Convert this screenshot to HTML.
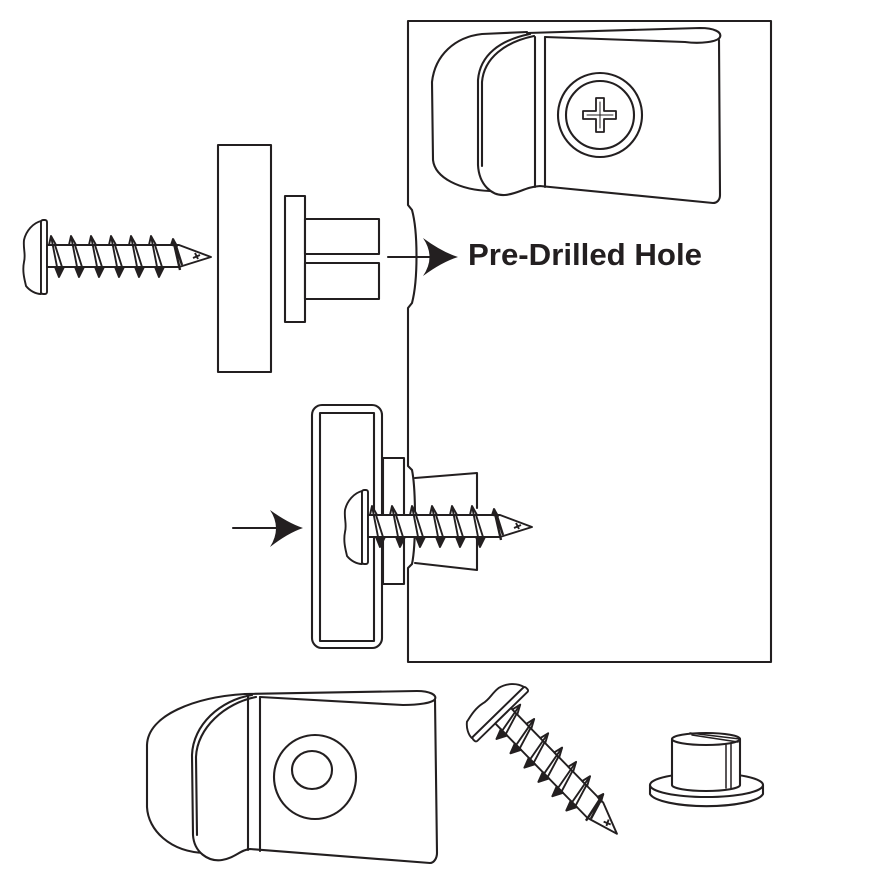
<!DOCTYPE html>
<html>
<head>
<meta charset="utf-8">
<style>
  html,body{margin:0;padding:0;background:#fff;}
  svg{display:block;}
</style>
</head>
<body>
<svg width="875" height="875" viewBox="0 0 875 875" xmlns="http://www.w3.org/2000/svg">
  <defs>
    <g id="screw" stroke="#231f20" stroke-width="1.9" fill="#fff" stroke-linejoin="round">
      <!-- dome -->
      <path d="M-4,-36 C-12,-34 -19,-26 -21,-17 C-22,-8 -19,-3 -21,5 C-23,15 -20,24 -19,29 C-15,34 -9,37 -4,37 Z"/>
      <!-- face strip -->
      <rect x="-4" y="-37" width="6" height="74" rx="2"/>
      <!-- shaft -->
      <path d="M2,-12 L134,-12 L166,0 L134,10 L2,10 Z"/>
      <!-- threads -->
      <g>
        <path d="M4,-12 L6,-21 L11,-12 Z"/><path d="M6,-21 L14,20 M10,-12 L17,10"/><path d="M10,10 L14,20 L19,10 Z" fill="#231f20"/>
        <path d="M24,-12 L26,-21 L31,-12 Z"/><path d="M26,-21 L34,20 M30,-12 L37,10"/><path d="M30,10 L34,20 L39,10 Z" fill="#231f20"/>
        <path d="M44,-12 L46,-21 L51,-12 Z"/><path d="M46,-21 L54,20 M50,-12 L57,10"/><path d="M50,10 L54,20 L59,10 Z" fill="#231f20"/>
        <path d="M64,-12 L66,-21 L71,-12 Z"/><path d="M66,-21 L74,20 M70,-12 L77,10"/><path d="M70,10 L74,20 L79,10 Z" fill="#231f20"/>
        <path d="M84,-12 L86,-21 L91,-12 Z"/><path d="M86,-21 L94,20 M90,-12 L97,10"/><path d="M90,10 L94,20 L99,10 Z" fill="#231f20"/>
        <path d="M104,-12 L106,-21 L111,-12 Z"/><path d="M106,-21 L114,20 M110,-12 L117,10"/><path d="M110,10 L114,20 L119,10 Z" fill="#231f20"/>
        <path d="M126,-12 L128,-18 L132,-11 Z" fill="#231f20"/><path d="M128,-18 L135,13 M131,-11 L137,8" stroke-width="2.4"/>
        <path d="M150,-4 L153,2 M148,1 L155,-2" fill="none"/>
      </g>
    </g>
  </defs>

  <g fill="none" stroke="#231f20" stroke-width="2.1" stroke-linejoin="round" stroke-linecap="round">
    <!-- Big panel with bulge at the pre-drilled hole -->
    <path d="M408,21 L771,21 L771,662 L408,662 L408,568 L412,564 C416,545 416,490 412,470 L408,466 L408,308 L412,303 C418,280 418,232 412,210 L408,205 Z" fill="#fff"/>

    <!-- ===== Top clip ===== -->
    <path d="M527,32 L482,34 C455,37 435,55 432,82 L433,160 C435,178 460,190 490,191" fill="#fff"/>
    <path d="M530,34 C500,40 480,55 478,80 L478,165 C479,185 492,196 505,195 C518,194 525,187 540,186 L713,203 C717,203 720,200 720,195 L719,40" fill="#fff"/>
    <path d="M534,36 C505,42 484,58 482,82 L482,166"/>
    <path d="M527,33 L700,28 C714,28 722,32 720,37 C718,42 700,44 685,42 L545,37"/>
    <line x1="535" y1="37" x2="535" y2="187"/>
    <line x1="545" y1="37" x2="545" y2="187"/>
    <circle cx="600" cy="115" r="42"/>
    <circle cx="600" cy="115" r="34"/>
    <path d="M596,98 L604,98 L604,111 L616,111 L616,119 L604,119 L604,132 L596,132 L596,119 L583,119 L583,111 L596,111 Z" stroke-width="1.8"/>
    <path d="M600,102 L600,128 M587,115 L613,115" stroke-width="1"/>

    <!-- ===== Top-left exploded parts ===== -->
    <rect x="218" y="145" width="53" height="227" fill="#fff"/>
    <rect x="285" y="196" width="20" height="126" fill="#fff"/>
    <rect x="305" y="219" width="74" height="35" fill="#fff"/>
    <rect x="305" y="263" width="74" height="36" fill="#fff"/>
    <line x1="388" y1="257" x2="430" y2="257"/>

    <!-- ===== Middle assembled ===== -->
    <rect x="312" y="405" width="70" height="243" rx="10" fill="#fff"/>
    <rect x="320" y="413" width="54" height="228" fill="#fff"/>
    <rect x="383" y="458" width="21" height="126" fill="#fff"/>
    <path d="M415,478 L477,473 L477,508"/>
    <path d="M415,563 L477,570 L477,535"/>
    <line x1="233" y1="528" x2="280" y2="528"/>

    <!-- ===== Bottom clip ===== -->
    <path d="M245,694 C195,697 148,715 147,745 L147,807 C148,830 170,852 205,853" fill="#fff"/>
    <path d="M252,695 C220,700 193,725 192,755 L193,835 C194,852 208,862 222,860 C235,858 240,850 250,849 L430,863 C434,863 437,858 437,853 L435,700" fill="#fff"/>
    <path d="M256,697 C225,703 197,728 196,757 L197,835"/>
    <path d="M245,694 L417,691 C430,691 437,695 435,699 C433,703 418,705 403,705 L260,697"/>
    <line x1="248" y1="697" x2="248" y2="850"/>
    <line x1="260" y1="697" x2="260" y2="851"/>
    <ellipse cx="315" cy="777" rx="41" ry="42"/>
    <ellipse cx="312" cy="770" rx="20" ry="19"/>

    <!-- ===== Nut ===== -->
    <path d="M650,785 L650,794 A57,14 0 0 0 763,794 L763,785" fill="#fff"/>
    <ellipse cx="706.5" cy="785" rx="56.5" ry="12" fill="#fff"/>
    <path d="M672,739 L672,785 A34,6 0 0 0 740,785 L740,739" fill="#fff"/>
    <ellipse cx="706" cy="739" rx="34" ry="6" fill="#fff"/>
    <path d="M690,733 L740,739 M692,735 L738,742" stroke-width="1.5"/>
    <path d="M726,745 L726,788 M731,744 L731,788" stroke-width="1.5"/>
  </g>

  <!-- Screws -->
  <use href="#screw" transform="translate(45,257)"/>
  <use href="#screw" transform="translate(366,527)"/>
  <use href="#screw" transform="translate(501,715) rotate(45.7)"/>

  <!-- Arrowheads -->
  <path d="M423,238 Q442,252 458,257 Q442,262 423,276 Q436,257 423,238 Z" fill="#231f20"/>
  <path d="M270,510 Q288,523 303,528 Q288,533 270,547 Q282,528 270,510 Z" fill="#231f20"/>

  <text x="468" y="265" font-family="'Liberation Sans', Arial, sans-serif" font-weight="bold" font-size="31" fill="#231f20" textLength="234" lengthAdjust="spacingAndGlyphs">Pre-Drilled Hole</text>
</svg>
</body>
</html>
